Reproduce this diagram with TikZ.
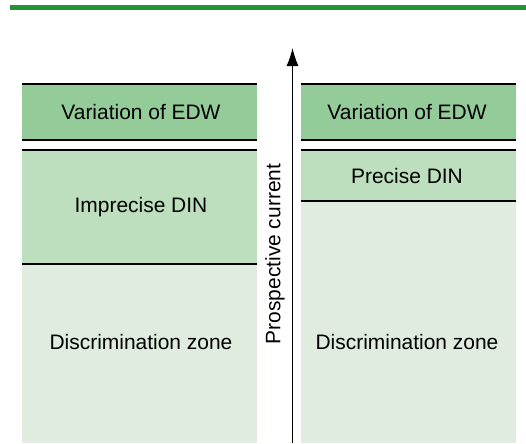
\documentclass[tikz,border=0pt]{standalone}
\usepackage{fontspec}
\setmainfont{Liberation Sans}
\usepackage{tikz}
\usetikzlibrary{arrows.meta, calc}

\definecolor{barGreen}{HTML}{1E9638}
\definecolor{edwGreen}{HTML}{93CC99}
\definecolor{dinGreen}{HTML}{BDDFBD}
\definecolor{zoneGreen}{HTML}{E0ECE0}

\begin{document}
\begin{tikzpicture}[x=0.05cm, y=-0.05cm]
      \tikzset{zone box/.style={inner sep=0pt,
          outer sep=0pt,
          draw=none,
          fill=#1,
          rectangle},
        zone text/.style={font=\fontsize{29.8}{35}\selectfont, inner sep=0pt},
        rule line/.style={line width=1.5pt}
      }
      \useasboundingbox (0,0) rectangle (526,443);
      \fill [barGreen] (10,5) rectangle (526,10);
      % left column
      \path [zone box=edwGreen] (22,84) rectangle (256.5,140);
      \path [zone box=dinGreen] (22,150) rectangle (256.5,264);
      \path [zone box=zoneGreen] (22,264) rectangle (256.5,443);
      \coordinate (L1) at (22,84);  \coordinate (L1e) at (256.5,84);
      \coordinate (L2) at (22,140); \coordinate (L2e) at (256.5,140);
      \coordinate (L3) at (22,150); \coordinate (L3e) at (256.5,150);
      \coordinate (L4) at (22,264); \coordinate (L4e) at (256.5,264);
      \foreach \k in {1,...,4} \draw [rule line] (L\k)--(L\k e);
      \node [zone text] (edwL) at (141,112) {Variation of EDW};
      \node [zone text] (dinL) at (141,207) {Imprecise DIN};
      \node [zone text] (zoneL) at (141,342) {Discrimination zone};
      % right column
      \path [zone box=edwGreen] (301,84) rectangle (515.5,140);
      \path [zone box=dinGreen] (301,150) rectangle (515.5,201);
      \path [zone box=zoneGreen] (301,201) rectangle (515.5,443);
      \coordinate (R1) at (301,84);  \coordinate (R1e) at (515.5,84);
      \coordinate (R2) at (301,140); \coordinate (R2e) at (515.5,140);
      \coordinate (R3) at (301,150); \coordinate (R3e) at (515.5,150);
      \coordinate (R4) at (301,201); \coordinate (R4e) at (515.5,201);
      \foreach \k in {1,...,4} \draw [rule line] (R\k)--(R\k e);
      \node [zone text] (edwR) at (407,112) {Variation of EDW};
      \node [zone text] (dinR) at (407,176) {Precise DIN};
      \node [zone text] (zoneR) at (407,342) {Discrimination zone};
      % current axis
      \coordinate (foot) at (292.5,443);
      \coordinate (tip) at (292.5,48);
      \draw [line width=1.7pt, -{Latex[length=0.9cm,width=0.6cm]}] (foot)--(tip);
      \node [zone text, rotate=90] (axis) at (275,254) {Prospective current};

    \end{tikzpicture}
\end{document}
